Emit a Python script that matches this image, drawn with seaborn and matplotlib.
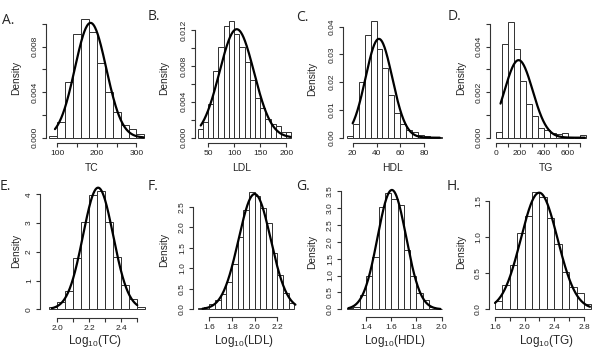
import numpy as np
import pandas as pd
import matplotlib
matplotlib.use("Agg")
import matplotlib.pyplot as plt
import seaborn as sns

sns.set_style("ticks")
plt.rcParams['font.family'] = ['Liberation Sans', 'DejaVu Sans']
plt.rcParams['mathtext.fontset'] = 'custom'
plt.rcParams['mathtext.rm'] = 'Liberation Sans'

# ---- histogram data (bin edges + densities) ----
tc_edges = np.arange(80, 321, 20)
tc_dens = [0.00015, 0.0014, 0.0049, 0.0091, 0.0104, 0.0093, 0.0066, 0.0040,
           0.0023, 0.0011, 0.0008, 0.0003]

ldl_edges = np.arange(30, 211, 10)
ldl_dens = [0.0010, 0.0017, 0.0037, 0.0074, 0.0101, 0.0124, 0.0130, 0.0116, 0.0101,
            0.0084, 0.0064, 0.0044, 0.0033, 0.0021, 0.0015, 0.0013, 0.0006, 0.0006]

hdl_edges = np.arange(15, 96, 5)
hdl_dens = [0.0006, 0.0049, 0.020, 0.037, 0.042, 0.032, 0.025, 0.0154,
            0.009, 0.005, 0.0028, 0.0019, 0.0011, 0.0006, 0.0004, 0.0002]

tg_edges = np.arange(0, 751, 50)
tg_dens = [0.00023, 0.0041, 0.0051, 0.0039, 0.0025, 0.0015, 0.00095, 0.00044,
           0.00036, 0.0002, 0.00015, 0.0002, 0.0, 0.0, 0.00012]

ltc_edges = np.round(np.arange(1.95, 2.551, 0.05), 2)
ltc_dens = [0.08, 0.24, 0.64, 1.77, 3.05, 3.98, 4.10, 3.05, 1.83, 0.85, 0.36, 0.07]

lldl_edges = np.round(np.arange(1.50, 2.351, 0.05), 2)
lldl_dens = [0.04, 0.05, 0.13, 0.23, 0.37, 0.67, 1.10, 1.76, 2.42, 2.85, 2.75,
             2.46, 2.10, 1.37, 0.84, 0.39, 0.15]

lhdl_edges = np.round(np.arange(1.25, 2.001, 0.05), 2)
lhdl_dens = [0.04, 0.08, 0.41, 0.99, 1.56, 3.04, 3.45, 3.27, 3.09, 1.76, 1.00,
             0.49, 0.28, 0.08, 0.02]

ltg_edges = np.round(np.arange(1.6, 2.901, 0.1), 2)
ltg_dens = [0.115, 0.34, 0.61, 1.05, 1.29, 1.62, 1.55, 1.26, 0.90, 0.51, 0.31, 0.22, 0.07]

# fitted normal curves: mean, sd, drawn range
curve_mean = [184, 105, 42, 190, 2.255, 2.0, 1.605, 2.196]
curve_sd = [39.5, 33, 11.2, 117, 0.0943, 0.142, 0.113, 0.247]
curve_lo = [94, 36, 20, 40, 1.965, 1.54, 1.26, 1.60]
curve_hi = [318, 208, 93, 740, 2.50, 2.36, 1.99, 2.88]

letters = ["A.", "B.", "C.", "D.", "E.", "F.", "G.", "H."]
xlabels = ["TC", "LDL", "HDL", "TG",
           r"$\mathrm{Log}_{10}$(TC)", r"$\mathrm{Log}_{10}$(LDL)",
           r"$\mathrm{Log}_{10}$(HDL)", r"$\mathrm{Log}_{10}$(TG)"]

xticks = [[100, 150, 200, 250, 300], [50, 100, 150, 200], [20, 40, 60, 80],
          [0, 100, 200, 300, 400, 500, 600, 700],
          [2.0, 2.1, 2.2, 2.3, 2.4, 2.5], [1.6, 1.8, 2.0, 2.2], [1.4, 1.6, 1.8, 2.0],
          [1.6, 1.8, 2.0, 2.2, 2.4, 2.6, 2.8]]
xticklabels = [["100", "", "200", "", "300"], ["50", "100", "150", "200"],
               ["20", "40", "60", "80"], ["0", "", "200", "", "400", "", "600", ""],
               ["2.0", "", "2.2", "", "2.4", ""], ["1.6", "1.8", "2.0", "2.2"],
               ["1.4", "1.6", "1.8", "2.0"], ["1.6", "", "2.0", "", "2.4", "", "2.8"]]
yticks = [[0, 0.002, 0.004, 0.006, 0.008, 0.010],
          [0, 0.002, 0.004, 0.006, 0.008, 0.010, 0.012],
          [0, 0.01, 0.02, 0.03, 0.04],
          [0, 0.001, 0.002, 0.003, 0.004, 0.005],
          [0, 1, 2, 3, 4], [0, 0.5, 1.0, 1.5, 2.0, 2.5],
          [0, 0.5, 1.0, 1.5, 2.0, 2.5, 3.0, 3.5], [0, 0.5, 1.0, 1.5]]
yticklabels = [["0.000", "", "0.004", "", "0.008", ""],
               ["0.000", "", "0.004", "", "0.008", "", "0.012"],
               ["0.00", "0.01", "0.02", "0.03", "0.04"],
               ["0.000", "", "0.002", "", "0.004", ""],
               ["0", "1", "2", "3", "4"], ["0.0", "0.5", "1.0", "1.5", "2.0", "2.5"],
               ["0.0", "0.5", "1.0", "1.5", "2.0", "2.5", "3.0", "3.5"],
               ["0.0", "0.5", "1.0", "1.5"]]

edges_all = [tc_edges, ldl_edges, hdl_edges, tg_edges, ltc_edges, lldl_edges, lhdl_edges, ltg_edges]
dens_all = [tc_dens, ldl_dens, hdl_dens, tg_dens, ltc_dens, lldl_dens, lhdl_dens, ltg_dens]

# ---- layout in pixels: bars x0, x1, baseline, ref tick value, its pixel, spine left, spine bottom, top
layout = [
    (49.4, 144.4, 137.7, 0.010, 24.0, 45.7, 142.7, 13),
    (197.6, 291.5, 137.7, 0.012, 30.0, 194.7, 142.7, 13),
    (346.7, 442.1, 137.7, 0.04, 26.7, 342.7, 142.7, 13),
    (495.7, 586.1, 137.7, 0.004, 46.7, 489.7, 142.7, 13),
    (49.3, 145.3, 309.3, 4.0, 194.3, 40.0, 317.7, 183),
    (198.0, 294.3, 309.3, 2.5, 206.7, 193.0, 317.0, 183),
    (347.1, 441.7, 309.3, 3.5, 191.0, 341.0, 317.0, 183),
    (495.0, 591.4, 309.3, 1.5, 201.0, 489.0, 317.0, 183),
]
letter_pos = [(2, 21), (148, 16.5), (296, 17.5), (448, 17),
              (0, 186.5), (148, 186.5), (296, 187), (447, 187)]
ylab_pos = [(16, 78), (164, 78), (312, 79), (461, 78),
            (16, 251), (164, 250), (312, 252), (461, 252)]
xlab_pos = [(91.7, 167.5), (242, 167.5), (392.7, 167.5), (545.7, 167.5),
            (95, 341), (244, 341), (395, 341), (546, 341)]

W, H = 596, 350
fig = plt.figure(figsize=(W / 100, H / 100), dpi=100)

for i in range(8):
    x0, x1, base, tv, tpx, sl, sb, top = layout[i]
    edges = [float(e) for e in edges_all[i]]
    dens = dens_all[i]
    e0, e1 = edges[0], edges[-1]
    ppu = (x1 - x0) / (e1 - e0)
    ppy = (base - tpx) / tv
    right = x1 + (x0 - sl)
    ax = fig.add_axes([sl / W, 1 - sb / H, (right - sl) / W, (sb - top) / H])

    df = pd.DataFrame({"mid": [(a + b) / 2 for a, b in zip(edges[:-1], edges[1:])],
                       "dens": dens})
    sns.histplot(data=df, x="mid", weights="dens", bins=edges, ax=ax, color="white",
                 edgecolor="#303030", linewidth=0.7, alpha=1)
    xs = np.linspace(curve_lo[i], curve_hi[i], 200)
    ys = np.exp(-0.5 * ((xs - curve_mean[i]) / curve_sd[i]) ** 2) / (curve_sd[i] * np.sqrt(2 * np.pi))
    sns.lineplot(x=xs, y=ys, ax=ax, color="black", linewidth=1.6)

    ax.set_xlim(e0 - (x0 - sl) / ppu, e1 + (x0 - sl) / ppu)
    ax.set_ylim(-(sb - base) / ppy, (base - top) / ppy)

    ax.set_xticks(xticks[i])
    ax.set_xticklabels(xticklabels[i])
    ax.set_yticks(yticks[i])
    ax.set_yticklabels(yticklabels[i], rotation=90, va="center")
    ax.tick_params(length=3, width=0.8, color="#333333", labelsize=6,
                   labelcolor="#222222", pad=2)
    ax.set_xlabel("")
    ax.set_ylabel("")
    sns.despine(ax=ax)
    ax.spines["left"].set_bounds(yticks[i][0], yticks[i][-1])
    ax.spines["bottom"].set_bounds(xticks[i][0], xticks[i][-1])
    for s in ["left", "bottom"]:
        ax.spines[s].set_linewidth(0.8)
        ax.spines[s].set_color("#333333")

    fig.text(letter_pos[i][0] / W, 1 - letter_pos[i][1] / H, letters[i],
             fontsize=10, family=["Open Sans", "DejaVu Sans"], va="center", ha="left")
    fig.text(ylab_pos[i][0] / W, 1 - ylab_pos[i][1] / H, "Density",
             fontsize=7.3, rotation=90, va="center", ha="center")
    fig.text(xlab_pos[i][0] / W, 1 - xlab_pos[i][1] / H, xlabels[i],
             fontsize=7.5 if i < 4 else 8.5, va="center", ha="center")

fig.savefig("out.png", dpi=100)
